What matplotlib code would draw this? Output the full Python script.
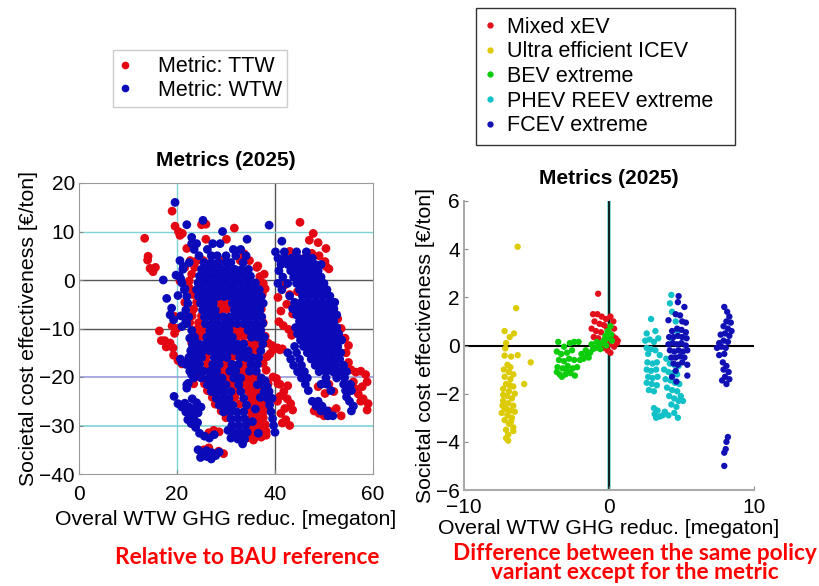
import numpy as np
import matplotlib
matplotlib.use("Agg")
import matplotlib.pyplot as plt
from matplotlib.lines import Line2D

plt.rcParams['font.family'] = ['Liberation Sans', 'DejaVu Sans']

# ---------------- left panel data (Metric: TTW vs WTW) ----------------
# dense blobs are read row by row: (y, [x values])
wtw_main_rows = [
    (7.5, [23.0, 24.0, 27.3, 28.8]),
    (6.3, [23.5, 26.2, 31.5, 33.0]),
    (5.0, [24.5, 27.0, 28.2, 30.0, 32.0, 34.1]),
    (3.6, [22.5, 25.5, 27.0, 28.5, 30.0, 31.0, 33.5]),
    (2.2, [21.2, 25.0, 26.3, 27.6, 29.0, 30.3, 31.8, 33.2, 34.6]),
    (0.8, [20.5, 24.6, 25.9, 27.2, 28.5, 29.8, 31.1, 32.4, 33.7, 35.0]),
    (-0.6, [21.0, 24.3, 25.6, 26.9, 28.2, 29.5, 30.8, 32.1, 33.4, 34.7, 36.0]),
    (-2.0, [21.5, 24.0, 25.3, 26.6, 27.9, 29.2, 30.5, 31.8, 33.1, 34.4, 35.7, 36.8]),
    (-3.4, [22.0, 24.4, 25.7, 27.0, 28.3, 29.6, 30.9, 32.2, 33.5, 34.8, 36.1, 37.2]),
    (-4.8, [22.2, 24.8, 26.1, 27.4, 31.3, 32.6, 33.9, 35.2, 36.5, 37.6]),
    (-6.2, [21.8, 25.2, 26.5, 27.8, 31.7, 33.0, 34.3, 35.6, 36.9]),
    (-7.6, [22.4, 25.6, 26.9, 28.2, 29.5, 30.8, 32.1, 33.4, 34.7, 36.0, 37.3]),
    (-9.0, [22.0, 25.8, 27.1, 28.4, 29.7, 31.0, 32.3, 33.6, 34.9, 36.2, 37.5]),
    (-10.4, [23.0, 26.7, 28.0, 29.3, 30.6, 34.5, 35.8, 37.1]),
    (-11.8, [23.6, 26.1, 27.4, 28.7, 30.0, 31.3, 35.2, 36.5, 37.8]),
    (-13.2, [23.2, 24.5, 25.8, 27.1, 28.4, 29.7, 31.0, 32.3, 33.6, 37.5]),
    (-14.6, [22.8, 24.1, 25.4, 26.7, 28.0, 29.3, 30.6, 31.9, 33.2, 34.5, 37.1]),
    (-16.0, [22.4, 23.7, 25.0, 27.6, 28.9, 30.2, 32.8, 34.1, 35.4, 36.7]),
    (-17.4, [21.8, 23.2, 24.6, 27.3, 28.6, 31.2, 32.5, 35.1, 36.4]),
    (-18.8, [22.6, 24.0, 25.4, 26.8, 28.1, 30.8, 32.0, 34.8, 36.2]),
    (-20.2, [23.4, 25.0, 26.5, 27.8, 29.2, 31.6, 33.0, 37.2]),
    (-21.6, [22.0, 26.2, 27.5, 28.8, 30.0, 32.6, 36.4, 37.6]),
    (-23.0, [27.0, 28.3, 29.6, 31.0, 33.0, 37.8, 38.8]),
    (-24.4, [28.0, 29.3, 30.6, 33.6, 38.4, 39.4]),
    (-25.8, [28.6, 30.0, 31.4, 34.2, 38.9]),
    (-27.2, [29.5, 30.8, 32.2, 33.6, 39.2]),
    (-28.6, [31.0, 32.4, 33.8, 39.5]),
    (-30.0, [31.2, 32.6, 34.0, 39.7]),
    (-31.4, [31.6, 33.0, 34.3, 40.0]),
    (-32.8, [32.4, 33.8]),
    (-33.8, [33.4]),
]
wtw_right_rows = [
    (8.0, [41.4]),
    (5.8, [40.1, 41.9, 44.4, 46.4]),
    (4.5, [40.6, 42.0, 43.4, 44.8, 46.2, 47.6]),
    (3.2, [41.2, 42.6, 44.0, 45.4, 46.8, 48.2, 49.4]),
    (1.9, [40.8, 43.2, 44.6, 46.0, 47.4, 48.8]),
    (0.6, [41.6, 43.8, 45.2, 46.6, 48.0, 49.4]),
    (-0.7, [40.6, 42.6, 44.4, 45.8, 47.2, 48.6, 50.0]),
    (-2.0, [41.4, 45.0, 46.4, 47.8, 49.2, 50.6]),
    (-3.3, [43.0, 45.6, 47.0, 48.4, 49.8, 51.2]),
    (-4.6, [44.0, 45.4, 46.8, 48.2, 49.6, 51.0, 52.2]),
    (-5.9, [43.6, 45.0, 46.4, 47.8, 49.2, 50.6, 52.0]),
    (-7.2, [44.4, 45.8, 47.2, 48.6, 50.0, 51.4, 52.6]),
    (-8.5, [45.0, 46.4, 47.8, 49.2, 50.6, 52.0]),
    (-9.8, [44.2, 45.6, 47.0, 48.4, 49.8, 51.2, 52.6]),
    (-11.1, [44.6, 46.0, 47.4, 48.8, 50.2, 51.6, 53.0]),
    (-12.4, [45.2, 46.6, 48.0, 49.4, 50.8, 52.2, 53.6]),
    (-13.7, [44.0, 45.8, 47.2, 48.6, 50.0, 51.4, 52.8]),
    (-15.0, [42.6, 44.4, 46.6, 48.0, 49.4, 50.8, 52.2, 53.4]),
    (-16.3, [43.2, 45.0, 47.4, 48.8, 50.2, 51.6, 53.2]),
    (-17.6, [43.8, 45.4, 48.2, 49.6, 51.0, 52.4, 54.0]),
    (-18.9, [44.6, 46.0, 49.0, 50.4, 51.8, 53.2, 54.6]),
    (-20.2, [45.4, 46.6, 50.4, 52.6, 54.2]),
    (-21.5, [46.2, 49.4, 50.6, 54.0, 55.4]),
    (-22.8, [46.8, 51.4, 54.4, 55.6]),
    (-24.1, [54.6]),
    (-25.0, [47.6, 48.8, 55.2]),
    (-26.0, [48.4, 49.6, 56.0]),
    (-27.0, [49.4, 50.6, 55.6]),
    (-28.0, [50.8, 51.8]),
]
wtw_scatter = [
    (19.6, 16.0), (22.0, 11.4), (25.3, 12.3), (23.0, 8.8), (29.3, 10.0),
    (34.3, 8.4), (38.8, 11.3), (17.2, 0.0), (19.4, -24.0),
    (20.6, 4.0), (21.3, 2.8), (19.8, 1.0), (20.8, 0.2), (21.6, -1.8),
    (20.2, -3.2), (17.9, -3.8), (18.9, -5.8), (18.6, -7.2), (19.3, -8.2),
    (21.0, -9.6), (20.8, -7.4), (21.8, -8.6), (22.6, -12.0), (23.2, -13.6),
    (20.7, -16.3), (21.0, -17.0), (22.5, -17.2), (23.0, -19.5), (22.3, -21.3),
    (22.0, -22.3),
    (20.2, -25.5), (21.0, -26.2), (21.8, -27.2), (22.6, -27.8), (23.4, -28.5),
    (24.2, -29.4), (23.8, -30.4), (22.9, -29.6), (21.6, -25.4), (22.5, -26.2),
    (23.4, -26.8), (24.3, -27.4), (23.1, -24.5), (24.0, -25.3), (24.9, -26.2),
    (22.2, -28.8),
    (24.6, -31.6), (25.6, -32.2), (26.6, -32.6), (27.6, -31.9),
    (24.3, -35.0), (25.2, -35.8), (26.1, -36.4), (27.0, -36.9), (27.9, -36.2),
    (28.6, -35.5), (26.0, -35.2), (24.8, -36.6), (27.1, -35.6),
    (30.4, -31.0), (31.0, -32.6), (38.4, -22.0), (38.0, -20.8),
    (36.0, -26.6), (35.4, -29.2), (37.0, -24.2), (36.6, -31.6),
]

ttw_main_rows = [
    (4.0, [22.7, 24.1, 25.4, 29.0, 32.9, 34.8]),
    (2.6, [21.6, 23.6, 26.8, 28.3, 36.3]),
    (1.2, [23.0, 25.2, 29.6, 32.8, 37.8]),
    (-0.2, [20.6, 22.5, 26.4, 30.2, 33.9, 36.9]),
    (-1.6, [22.5, 24.8, 28.6, 31.6, 37.5]),
    (-3.0, [23.2, 26.0, 30.0, 34.0, 37.4]),
    (-4.6, [21.6, 24.0, 27.8, 28.8, 29.8, 31.6, 35.4]),
    (-6.0, [23.4, 26.4, 29.0, 30.2, 33.4, 37.2]),
    (-7.4, [23.1, 25.0, 28.8, 32.0, 35.8]),
    (-8.8, [22.6, 24.4, 27.4, 30.8, 34.2, 37.6]),
    (-10.2, [24.0, 25.4, 29.8, 31.8, 33.0, 36.4]),
    (-11.6, [24.3, 25.2, 28.2, 32.4, 33.6, 35.0, 38.0]),
    (-13.0, [23.0, 26.8, 30.0, 33.6, 35.0, 36.2, 38.6]),
    (-14.4, [24.0, 28.6, 32.0, 35.4, 36.4, 39.6, 41.0]),
    (-15.8, [22.6, 26.0, 29.6, 31.4, 33.2, 36.6, 38.4]),
    (-17.2, [24.2, 26.2, 27.6, 29.8, 31.0, 33.6, 34.6, 37.6]),
    (-18.6, [23.6, 25.8, 29.3, 30.2, 33.2, 34.2, 35.6, 38.2]),
    (-20.0, [24.6, 28.8, 30.4, 32.2, 34.2, 35.6, 36.6, 39.6]),
    (-21.4, [23.4, 25.6, 31.2, 33.4, 34.6, 35.4, 38.6, 40.6]),
    (-22.8, [26.2, 32.0, 34.4, 35.6, 36.8]),
    (-24.2, [27.2, 31.8, 35.0, 36.2, 37.2]),
    (-25.6, [27.8, 32.8, 35.2, 36.0, 37.4]),
    (-27.0, [29.0, 34.8, 35.8, 36.6, 37.8]),
    (-28.4, [30.0, 35.2, 36.4, 37.6]),
    (-29.8, [35.0, 35.6, 36.8, 38.0]),
    (-31.2, [34.6, 35.8, 37.0, 38.2]),
    (-32.4, [34.8, 36.0, 37.2]),
]
ttw_scatter = [
    (13.4, 8.6), (14.1, 4.9), (14.0, 4.1), (14.5, 2.4), (15.1, 1.7), (15.6, 2.6),
    (19.0, 14.2), (19.6, 11.1), (20.6, 9.2), (21.1, 9.6), (20.3, 10.0),
    (25.0, 11.4), (25.9, 11.5), (25.9, 8.4), (22.0, 6.5), (30.1, 8.4),
    (31.7, 10.7), (33.7, 5.4), (36.5, 2.9), (36.9, 0.7), (37.6, -0.7),
    (38.0, -1.8), (37.2, -2.8),
    (16.4, -10.5), (16.8, -12.5), (17.8, -13.8), (18.6, -13.0), (19.2, -14.0),
    (17.5, -12.5), (19.3, -15.5), (20.2, -16.6), (21.0, -17.3),
    (19.5, -7.5), (19.0, -9.5), (20.0, -10.0), (19.5, -11.0), (21.8, -26.6),
    (40.8, -8.6), (41.7, -9.4), (42.8, -10.2), (43.4, -11.4),
    (39.4, -13.5), (40.5, -14.0), (41.5, -14.2), (39.0, -15.2),
    (40.3, -20.3), (41.0, -21.5), (41.8, -23.0), (42.5, -24.5), (43.2, -25.5),
    (42.0, -26.5), (41.2, -27.5), (42.2, -28.8), (43.0, -30.0), (41.5, -29.5),
    (40.5, -25.0), (41.0, -24.0), (43.6, -26.8), (42.6, -21.8),
    (35.0, -22.0), (34.2, -32.6), (38.2, -32.0), (37.8, -30.2), (35.6, -33.0),
    (26.5, -31.5), (27.5, -31.0), (28.6, -31.3), (28.5, -35.3), (29.5, -35.8),
    (27.5, -36.2), (25.5, -35.0), (26.5, -34.6),
    (45.1, 11.9), (47.8, 9.6), (47.0, 8.2), (48.8, 7.7), (50.4, 6.5),
    (49.0, 5.0), (50.2, 3.8), (50.4, 2.8), (51.0, 2.3), (47.5, 5.5), (46.0, 4.5),
    (43.0, 5.9), (42.0, -1.0), (43.0, -3.0), (42.4, -5.0), (43.6, -7.0),
    (44.6, -2.4), (40.6, -3.6), (41.2, -6.4),
    (52.0, -6.0), (52.8, -8.0), (53.5, -10.0), (54.3, -12.0), (55.0, -13.5),
    (54.5, -15.0), (55.0, -17.0), (54.0, -18.5), (52.5, -19.5),
    (51.0, -21.5), (52.0, -23.0), (50.2, -23.4), (48.8, -22.0),
    (55.5, -18.5), (56.5, -19.0), (57.5, -18.8), (58.5, -19.5), (58.8, -21.0),
    (57.8, -22.0), (57.0, -23.5), (58.0, -24.5), (59.0, -25.5), (58.8, -26.8),
    (57.5, -25.0), (56.5, -22.5), (56.0, -21.0), (52.5, -26.5), (53.5, -28.0),
    (48.0, -27.0), (49.0, -27.5), (50.0, -28.0), (51.0, -27.0),
]

# ---------------- right panel data (TTW - WTW difference per variant) ----------------
mixed_xev = [
    (-0.75, 2.15), (-1.1, 1.3), (-0.8, 1.3), (-0.5, 1.2), (-0.2, 1.1), (0.1, 1.2),
    (0.3, 1.0), (-1.0, 1.0), (-0.65, 0.9), (-0.35, 0.85), (0.35, 0.7), (-1.2, 0.7),
    (-0.9, 0.6), (-0.55, 0.55), (0.25, 0.4), (0.45, 0.3), (-1.05, 0.35), (-0.75, 0.3),
    (-0.3, 0.25), (0.55, 0.1), (-0.6, 0.05), (0.0, 0.05), (0.35, -0.05), (-0.1, -0.2),
    (0.1, -0.3), (-0.4, -0.1), (0.6, 0.2), (-0.15, 0.75),
]
ultra_icev = [
    (-6.3, 4.1), (-6.4, 1.55), (-7.2, 0.6), (-6.55, 0.5), (-6.85, 0.35), (-7.1, 0.1),
    (-7.15, -0.12), (-7.2, -0.42), (-6.75, -0.46), (-6.3, -0.4), (-5.4, -0.7),
    (-5.85, -1.6), (-7.0, -0.8), (-6.9, -1.1), (-7.2, -1.3), (-6.8, -1.4), (-7.1, -1.6),
    (-6.6, -1.7), (-7.3, -1.8), (-6.9, -1.9), (-7.0, -2.1), (-6.7, -2.2), (-7.3, -2.3),
    (-6.95, -2.4), (-6.6, -2.5), (-7.2, -2.6), (-6.8, -2.7), (-7.4, -2.8), (-7.0, -2.9),
    (-6.7, -3.0), (-7.2, -3.1), (-6.9, -3.25), (-6.6, -3.4), (-7.1, -3.5), (-6.95, -3.7),
    (-7.1, -3.85), (-6.95, -3.95), (-6.6, -3.55), (-7.3, -2.05), (-6.5, -2.0),
    (-6.6, -1.2), (-7.35, -2.5), (-6.85, -1.65), (-7.05, -2.65), (-6.75, -3.15),
    (-6.5, -2.75), (-7.25, -1.0), (-6.8, -0.9),
]
bev_extreme = [
    (-3.5, 0.15), (-3.1, -0.05), (-2.7, 0.1), (-2.4, 0.15), (-2.1, 0.15), (-3.6, -0.25),
    (-3.3, -0.35), (-2.9, -0.3), (-2.55, -0.2), (-3.45, -0.6), (-3.1, -0.65), (-2.75, -0.55),
    (-2.4, -0.6), (-3.55, -0.9), (-3.2, -0.95), (-2.85, -0.85), (-2.5, -0.95), (-3.4, -1.2),
    (-3.0, -1.2), (-2.65, -1.15), (-2.35, -1.25), (-3.6, -1.1), (-3.25, -1.3), (-2.9, -1.05),
    (-2.2, -0.9), (-2.0, -0.6), (-1.75, -0.55), (-1.5, -0.4), (-1.3, -0.3), (-1.1, -0.15),
    (-0.9, -0.1), (-0.7, 0.0), (-0.5, 0.1), (-1.6, -0.2), (-1.2, 0.05), (-0.85, 0.15),
    (-0.6, -0.15), (-1.9, -0.35), (-1.4, -0.5), (-0.35, 0.2), (-0.15, 0.3), (0.05, 0.5),
    (0.1, 0.8), (-0.1, 0.6), (0.2, 0.2), (-0.2, 0.0), (0.15, 0.45), (-0.25, 0.4),
]
phev_reev = [
    (2.9, 1.1), (2.6, 0.5), (3.2, 0.6), (2.5, 0.2), (2.8, 0.25), (3.1, 0.15), (3.4, 0.3),
    (2.6, -0.1), (2.9, -0.15), (3.2, -0.2), (2.7, -0.35), (3.5, -0.4), (2.65, -0.7),
    (3.0, -0.75), (3.3, -0.7), (2.6, -1.0), (2.9, -1.05), (3.25, -1.0), (2.7, -1.3),
    (3.0, -1.35), (3.35, -1.3), (2.6, -1.55), (2.95, -1.6), (3.3, -1.65), (2.75, -1.85),
    (3.1, -1.9), (3.1, -2.6), (3.35, -2.7), (3.15, -2.85), (3.5, -2.95), (3.25, -3.0),
    (4.3, 2.1), (4.2, 1.75), (4.35, 1.4), (4.6, 1.0), (4.7, 0.6), (4.3, 0.3),
    (3.95, -0.55), (4.2, -0.75), (4.5, -0.8), (4.8, -0.85), (3.8, -1.0), (4.1, -1.1),
    (4.4, -1.15), (4.7, -1.2), (3.9, -1.4), (4.25, -1.45), (4.55, -1.55), (4.85, -1.6),
    (4.0, -1.75), (4.35, -1.85), (4.7, -1.9), (4.15, -2.1), (4.5, -2.2), (4.8, -2.3),
    (5.1, -2.3), (4.3, -2.45), (4.65, -2.55), (3.85, -2.75), (4.1, -2.9), (4.5, -2.8),
    (4.75, -3.0), (3.7, -2.9), (4.95, -2.1),
]
fcev_extreme = [
    (4.8, 2.05), (4.75, 1.8), (5.2, 1.6), (4.6, 1.3), (4.1, 1.05), (4.9, 1.25), (5.05, 1.0),
    (5.3, 0.95), (4.35, 0.6), (4.7, 0.7), (5.0, 0.65), (5.3, 0.55), (4.15, 0.35),
    (4.45, 0.35), (4.75, 0.4), (5.05, 0.35), (5.35, 0.3), (4.1, 0.05), (4.4, 0.1),
    (4.7, 0.05), (5.0, 0.1), (5.3, 0.0), (4.2, -0.2), (4.5, -0.25), (4.8, -0.2),
    (5.1, -0.25), (5.4, -0.2), (4.3, -0.5), (4.6, -0.5), (4.9, -0.45), (5.2, -0.5),
    (4.45, -0.75), (4.75, -0.8), (5.05, -0.7), (5.4, -0.8), (5.4, -1.25), (4.65, -1.5),
    (4.35, -1.3), (4.6, -1.05),
    (7.95, 1.6), (8.15, 1.4), (8.3, 1.2), (8.1, 1.0), (8.4, 0.95), (7.9, 0.8), (8.2, 0.7),
    (8.45, 0.6), (7.7, 0.45), (8.0, 0.5), (8.3, 0.4), (7.6, 0.1), (7.9, 0.2), (8.2, 0.15),
    (7.45, -0.1), (7.75, -0.05), (8.05, -0.1), (7.6, -0.4), (7.95, -0.35), (7.85, -0.7),
    (8.1, -0.85), (7.9, -1.0), (8.25, -1.1), (8.0, -1.3), (8.3, -1.4), (8.1, -1.6),
    (7.8, -1.45), (8.2, -3.8), (8.1, -4.0), (8.05, -4.3), (7.95, -4.45), (7.95, -5.0),
]

left_labels = ['Metric: TTW', 'Metric: WTW']
right_labels = ['Mixed xEV', 'Ultra efficient ICEV', 'BEV extreme',
                'PHEV REEV extreme', 'FCEV extreme']


def expand(rows, extra):
    pts = [(x, y) for y, xs in rows for x in xs] + list(extra)
    a = np.array(pts)
    return a[:, 0], a[:, 1]


ttw_x, ttw_y = expand(ttw_main_rows, ttw_scatter)
wtw_x, wtw_y = expand(wtw_main_rows + wtw_right_rows, wtw_scatter)

RED = '#e30613'
BLUE = '#0a0ab8'
right_colors = ['#e3101c', '#dccb00', '#0ccc0c', '#10c2c8', '#1010b4']
right_sets = [mixed_xev, ultra_icev, bev_extreme, phev_reev, fcev_extreme]

TICK_FS = 15
LABEL_FS = 15.3
LEG_FS = 15.5

fig = plt.figure(figsize=(8.2, 5.86), dpi=100)

# ---------------- left panel ----------------
ax1 = fig.add_axes([79/820, 1 - 474/586, 294/820, 291/586])
ax1.set_xlim(0, 60)
ax1.set_ylim(-40, 20)
ax1.axvline(20, color='#7fd3d6', lw=1, zorder=0)
ax1.axvline(40, color='#555555', lw=1, zorder=0)
ax1.axhline(10, color='#7fd3d6', lw=1, zorder=0)
ax1.axhline(0, color='#555555', lw=1, zorder=0)
ax1.axhline(-10, color='#555555', lw=1, zorder=0)
ax1.axhline(-20, color='#9a9ae0', lw=1.2, zorder=0)
ax1.axhline(-30, color='#7fd3d6', lw=1.2, zorder=0)
ax1.scatter(ttw_x, ttw_y, s=40, color=RED, edgecolors='none', zorder=2)
ax1.scatter(wtw_x, wtw_y, s=40, color=BLUE, edgecolors='none', zorder=3)
ax1.set_xticks([0, 20, 40, 60])
ax1.set_yticks([-40, -30, -20, -10, 0, 10, 20])
ax1.tick_params(direction='in', length=3, labelsize=TICK_FS, color='#888888')
ax1.tick_params(axis='x', pad=8)
ax1.tick_params(axis='y', pad=3)
for s in ax1.spines.values():
    s.set_color('#999999')
ax1.set_title('Metrics (2025)', fontsize=15, fontweight='bold', pad=12)
ax1.set_xlabel('Overal WTW GHG reduc. [megaton]', fontsize=LABEL_FS, labelpad=4)
ax1.set_ylabel('Societal cost effectiveness [\u20ac/ton]', fontsize=LABEL_FS, labelpad=1)

h1 = [Line2D([], [], ls='none', marker='o', ms=4.5, color=c) for c in [RED, BLUE]]
leg1 = fig.legend(h1, left_labels, loc='upper left',
                  bbox_to_anchor=(113/820, 1 - 104/586, 174/820, 54/586), mode='expand',
                  fontsize=LEG_FS, handlelength=0.5, handletextpad=1.3,
                  labelspacing=0.1, borderpad=0.3, borderaxespad=0,
                  fancybox=False, framealpha=1)
leg1.get_frame().set_edgecolor('#cccccc')

# ---------------- right panel ----------------
ax2 = fig.add_axes([464/820, 1 - 490/586, 290/820, 289/586])
ax2.set_xlim(-10, 10)
ax2.set_ylim(-6, 6)
ax2.axvline(0, color='#6fcfd2', lw=2.6, zorder=0)
ax2.axvline(0, color='black', lw=1.2, zorder=1)
ax2.axhline(0, color='black', lw=1.5, zorder=1)
for pts, c in zip(right_sets, right_colors):
    a = np.array(pts)
    ax2.scatter(a[:, 0], a[:, 1], s=21, color=c, edgecolors='none', zorder=2)
ax2.set_xticks([-10, 0, 10])
ax2.set_yticks([-6, -4, -2, 0, 2, 4, 6])
ax2.tick_params(direction='in', length=3, labelsize=TICK_FS, color='#888888')
ax2.tick_params(axis='x', pad=6)
ax2.tick_params(axis='y', pad=3)
ax2.spines['top'].set_visible(False)
ax2.spines['right'].set_visible(False)
ax2.spines['left'].set_color('#aaaaaa')
ax2.spines['bottom'].set_color('#aaaaaa')
ax2.spines['left'].set_linewidth(1.5)
ax2.spines['bottom'].set_linewidth(1.5)
ax2.set_title('Metrics (2025)', fontsize=15, fontweight='bold', pad=12)
ax2.set_xlabel('Overal WTW GHG reduc. [megaton]', fontsize=LABEL_FS, labelpad=1)
ax2.set_ylabel('Societal cost effectiveness [\u20ac/ton]', fontsize=LABEL_FS, labelpad=1)

h2 = [Line2D([], [], ls='none', marker='o', ms=3.5, color=c) for c in right_colors]
leg2 = fig.legend(h2, right_labels, loc='upper left',
                  bbox_to_anchor=(476/820, 1 - 141/586, 259/820, 133/586), mode='expand',
                  fontsize=LEG_FS, handlelength=0.5, handletextpad=0.55,
                  labelspacing=0.17, borderpad=0.4, borderaxespad=0,
                  fancybox=False, framealpha=1)
leg2.get_frame().set_edgecolor('#333333')

# ---------------- captions ----------------
fig.text(247/820, 1 - 558/586, 'Relative to BAU reference', color='red',
         fontsize=16.3, fontweight='bold', family=['Lato', 'DejaVu Sans'],
         ha='center', va='center')
fig.text(635/820, 1 - 563/586, 'Difference between the same policy\nvariant except for the metric',
         color='red', fontsize=16.3, fontweight='bold', family=['Lato', 'DejaVu Sans'],
         ha='center', va='center', linespacing=0.9)

fig.savefig('out.png', dpi=100)
